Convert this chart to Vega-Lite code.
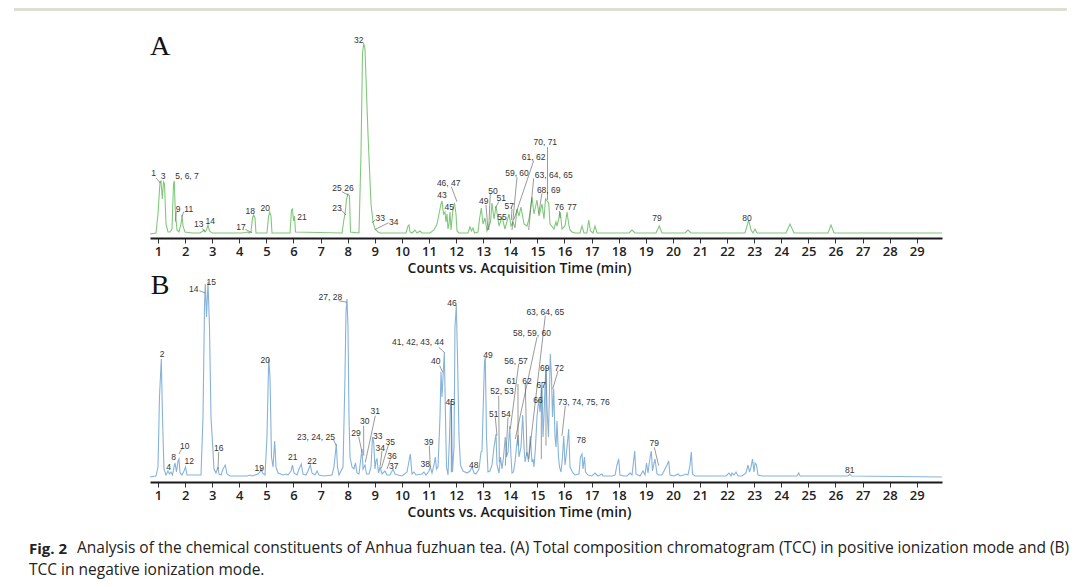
{
"$schema": "https://vega.github.io/schema/vega-lite/v6.json",
"background": "white",
"padding": {"left": 12, "top": 8, "right": 12, "bottom": 4},
"config": {"view": {"stroke": null}, "font": "Open Sans",
 "axisX": {"grid": false, "domainColor": "#1a1a1a", "domainWidth": 2, "tickColor": "#333", "tickWidth": 1, "tickSize": 5, "labelFont": "Open Sans", "labelFontSize": 13, "labelFontWeight": 600, "labelColor": "#222", "labelPadding": 2, "labelFlush": false, "labelOverlap": false, "titleFont": "Open Sans", "titleFontSize": 14, "titleFontWeight": 600, "titleColor": "#1a1a1a", "titlePadding": 3}},
"spacing": -3,
"title": {
 "text": "Fig. 2",
 "subtitle": "TCC in negative ionization mode.",
 "orient": "bottom", "anchor": "start", "frame": "group", "dx": -121, "dy": -15, "offset": 0,
 "font": "Open Sans", "fontSize": 15, "fontWeight": "bold", "color": "#222",
 "subtitleFont": "Open Sans", "subtitleFontSize": 15.5, "subtitleColor": "#222", "subtitlePadding": 6
},
"datasets": {
 "lineA": [
 {"t":0.705,"v":0},{"t":0.926,"v":1},{"t":1.0,"v":20},{"t":1.074,"v":52},{"t":1.111,"v":53},{"t":1.159,"v":35},{"t":1.203,"v":52},{"t":1.24,"v":50},{"t":1.295,"v":10},{"t":1.369,"v":2},{"t":1.443,"v":2},{"t":1.517,"v":5},{"t":1.572,"v":50},{"t":1.601,"v":53},{"t":1.635,"v":25},{"t":1.664,"v":15},{"t":1.701,"v":4},{"t":1.775,"v":2},{"t":1.849,"v":10},{"t":1.886,"v":19},{"t":1.923,"v":8},{"t":1.996,"v":2},{"t":2.255,"v":1},{"t":2.55,"v":1},{"t":2.661,"v":3},{"t":2.697,"v":4},{"t":2.734,"v":2},{"t":2.79,"v":4},{"t":2.845,"v":9},{"t":2.9,"v":3},{"t":2.993,"v":1},{"t":4.1,"v":1},{"t":4.321,"v":2},{"t":4.358,"v":1},{"t":4.432,"v":2},{"t":4.487,"v":16},{"t":4.531,"v":19},{"t":4.579,"v":16},{"t":4.616,"v":1},{"t":5.022,"v":1},{"t":5.077,"v":17},{"t":5.122,"v":22},{"t":5.17,"v":18},{"t":5.207,"v":1},{"t":5.871,"v":1},{"t":5.926,"v":24},{"t":5.963,"v":25},{"t":6.0,"v":13},{"t":6.037,"v":18},{"t":6.074,"v":2},{"t":7.79,"v":1},{"t":7.864,"v":15},{"t":7.911,"v":22},{"t":7.956,"v":35},{"t":8.011,"v":40},{"t":8.066,"v":38},{"t":8.103,"v":2},{"t":8.417,"v":1},{"t":8.491,"v":80},{"t":8.546,"v":180},{"t":8.59,"v":191},{"t":8.638,"v":185},{"t":8.749,"v":100},{"t":8.86,"v":30},{"t":8.934,"v":12},{"t":9.007,"v":5},{"t":9.118,"v":2},{"t":9.192,"v":1},{"t":10.151,"v":1},{"t":10.225,"v":8},{"t":10.262,"v":9},{"t":10.299,"v":2},{"t":10.373,"v":1},{"t":10.483,"v":4},{"t":10.557,"v":1},{"t":10.668,"v":3},{"t":10.742,"v":1},{"t":11.037,"v":1},{"t":11.185,"v":4},{"t":11.295,"v":10},{"t":11.369,"v":20},{"t":11.443,"v":30},{"t":11.48,"v":33},{"t":11.535,"v":20},{"t":11.59,"v":22},{"t":11.627,"v":12},{"t":11.664,"v":20},{"t":11.701,"v":5},{"t":11.738,"v":10},{"t":11.775,"v":22},{"t":11.812,"v":4},{"t":11.886,"v":25},{"t":11.941,"v":31},{"t":11.996,"v":20},{"t":12.033,"v":3},{"t":12.107,"v":1},{"t":12.439,"v":1},{"t":12.513,"v":7},{"t":12.568,"v":3},{"t":12.624,"v":6},{"t":12.679,"v":1},{"t":12.808,"v":2},{"t":12.864,"v":15},{"t":12.93,"v":26},{"t":12.993,"v":10},{"t":13.067,"v":16},{"t":13.14,"v":3},{"t":13.214,"v":8},{"t":13.27,"v":12},{"t":13.325,"v":31},{"t":13.399,"v":15},{"t":13.472,"v":28},{"t":13.583,"v":8},{"t":13.694,"v":17},{"t":13.804,"v":5},{"t":13.952,"v":20},{"t":14.026,"v":8},{"t":14.1,"v":12},{"t":14.174,"v":6},{"t":14.247,"v":25},{"t":14.321,"v":18},{"t":14.395,"v":27},{"t":14.506,"v":10},{"t":14.616,"v":8},{"t":14.69,"v":15},{"t":14.801,"v":37},{"t":14.875,"v":20},{"t":14.985,"v":34},{"t":15.059,"v":18},{"t":15.17,"v":30},{"t":15.243,"v":15},{"t":15.299,"v":35},{"t":15.417,"v":31},{"t":15.465,"v":10},{"t":15.613,"v":5},{"t":15.686,"v":12},{"t":15.723,"v":8},{"t":15.845,"v":22},{"t":15.908,"v":5},{"t":16.019,"v":8},{"t":16.093,"v":22},{"t":16.166,"v":8},{"t":16.203,"v":4},{"t":16.277,"v":2},{"t":16.388,"v":1},{"t":16.572,"v":1},{"t":16.646,"v":8},{"t":16.72,"v":1},{"t":16.83,"v":1},{"t":16.893,"v":14},{"t":16.959,"v":3},{"t":17.052,"v":1},{"t":17.126,"v":8},{"t":17.2,"v":1},{"t":18.38,"v":1},{"t":18.491,"v":4},{"t":18.602,"v":1},{"t":19.376,"v":1},{"t":19.498,"v":8},{"t":19.597,"v":1},{"t":20.447,"v":1},{"t":20.557,"v":4},{"t":20.668,"v":1},{"t":22.661,"v":1},{"t":22.797,"v":14},{"t":22.882,"v":4},{"t":22.956,"v":1},{"t":23.03,"v":5},{"t":23.103,"v":1},{"t":24.173,"v":1},{"t":24.321,"v":10},{"t":24.469,"v":1},{"t":25.723,"v":1},{"t":25.834,"v":9},{"t":25.945,"v":1},{"t":29.93,"v":1}
 ],
 "lineB": [
 {"t":0.705,"v":0},{"t":0.926,"v":1},{"t":1.0,"v":10},{"t":1.055,"v":80},{"t":1.122,"v":118},{"t":1.166,"v":60},{"t":1.221,"v":8},{"t":1.295,"v":2},{"t":1.369,"v":6},{"t":1.424,"v":3},{"t":1.48,"v":5},{"t":1.535,"v":2},{"t":1.59,"v":10},{"t":1.627,"v":14},{"t":1.683,"v":5},{"t":1.738,"v":16},{"t":1.775,"v":18},{"t":1.812,"v":4},{"t":1.886,"v":2},{"t":1.959,"v":6},{"t":2.015,"v":10},{"t":2.07,"v":2},{"t":2.144,"v":2},{"t":2.587,"v":2},{"t":2.661,"v":60},{"t":2.716,"v":170},{"t":2.745,"v":193},{"t":2.79,"v":160},{"t":2.845,"v":195},{"t":2.9,"v":150},{"t":2.956,"v":60},{"t":3.011,"v":35},{"t":3.066,"v":8},{"t":3.14,"v":4},{"t":3.214,"v":10},{"t":3.251,"v":3},{"t":3.325,"v":2},{"t":3.399,"v":8},{"t":3.483,"v":12},{"t":3.546,"v":3},{"t":3.657,"v":1},{"t":4.284,"v":1},{"t":4.395,"v":2},{"t":4.469,"v":1},{"t":4.69,"v":3},{"t":4.764,"v":5},{"t":4.801,"v":8},{"t":4.856,"v":4},{"t":4.948,"v":2},{"t":5.022,"v":40},{"t":5.085,"v":118},{"t":5.133,"v":100},{"t":5.188,"v":20},{"t":5.244,"v":10},{"t":5.306,"v":36},{"t":5.354,"v":10},{"t":5.428,"v":4},{"t":5.613,"v":2},{"t":5.723,"v":3},{"t":5.797,"v":2},{"t":5.908,"v":6},{"t":5.963,"v":12},{"t":6.018,"v":4},{"t":6.129,"v":2},{"t":6.203,"v":8},{"t":6.288,"v":13},{"t":6.351,"v":3},{"t":6.461,"v":2},{"t":6.535,"v":6},{"t":6.62,"v":12},{"t":6.683,"v":4},{"t":6.793,"v":2},{"t":6.867,"v":6},{"t":6.941,"v":2},{"t":7.126,"v":1},{"t":7.421,"v":2},{"t":7.494,"v":10},{"t":7.579,"v":33},{"t":7.624,"v":10},{"t":7.679,"v":2},{"t":7.827,"v":10},{"t":7.9,"v":100},{"t":7.937,"v":165},{"t":7.974,"v":178},{"t":8.011,"v":150},{"t":8.048,"v":60},{"t":8.085,"v":20},{"t":8.159,"v":10},{"t":8.232,"v":8},{"t":8.288,"v":14},{"t":8.343,"v":4},{"t":8.417,"v":3},{"t":8.491,"v":20},{"t":8.528,"v":28},{"t":8.565,"v":8},{"t":8.638,"v":12},{"t":8.694,"v":3},{"t":8.786,"v":3},{"t":8.86,"v":10},{"t":8.915,"v":40},{"t":8.959,"v":35},{"t":9.007,"v":8},{"t":9.044,"v":16},{"t":9.081,"v":18},{"t":9.137,"v":4},{"t":9.192,"v":10},{"t":9.266,"v":3},{"t":9.376,"v":6},{"t":9.45,"v":2},{"t":9.561,"v":2},{"t":9.672,"v":8},{"t":9.745,"v":3},{"t":9.856,"v":2},{"t":10.004,"v":1},{"t":10.188,"v":5},{"t":10.31,"v":23},{"t":10.373,"v":3},{"t":10.447,"v":5},{"t":10.52,"v":2},{"t":10.742,"v":3},{"t":10.815,"v":5},{"t":10.889,"v":2},{"t":11.0,"v":6},{"t":11.048,"v":10},{"t":11.111,"v":4},{"t":11.185,"v":12},{"t":11.233,"v":20},{"t":11.277,"v":8},{"t":11.332,"v":10},{"t":11.406,"v":60},{"t":11.443,"v":105},{"t":11.48,"v":80},{"t":11.517,"v":100},{"t":11.565,"v":125},{"t":11.609,"v":60},{"t":11.646,"v":10},{"t":11.701,"v":2},{"t":11.757,"v":40},{"t":11.794,"v":75},{"t":11.823,"v":76},{"t":11.867,"v":5},{"t":11.923,"v":30},{"t":11.959,"v":150},{"t":12.008,"v":172},{"t":12.052,"v":120},{"t":12.107,"v":40},{"t":12.162,"v":12},{"t":12.255,"v":6},{"t":12.402,"v":4},{"t":12.513,"v":6},{"t":12.587,"v":10},{"t":12.661,"v":4},{"t":12.734,"v":3},{"t":12.845,"v":8},{"t":12.919,"v":25},{"t":12.956,"v":26},{"t":13.011,"v":80},{"t":13.048,"v":115},{"t":13.077,"v":120},{"t":13.122,"v":40},{"t":13.177,"v":5},{"t":13.251,"v":6},{"t":13.325,"v":12},{"t":13.399,"v":30},{"t":13.472,"v":43},{"t":13.509,"v":12},{"t":13.583,"v":4},{"t":13.638,"v":20},{"t":13.694,"v":8},{"t":13.749,"v":20},{"t":13.816,"v":40},{"t":13.86,"v":20},{"t":13.916,"v":25},{"t":13.978,"v":51},{"t":14.026,"v":20},{"t":14.063,"v":4},{"t":14.118,"v":5},{"t":14.174,"v":15},{"t":14.229,"v":30},{"t":14.284,"v":42},{"t":14.321,"v":20},{"t":14.395,"v":30},{"t":14.458,"v":62},{"t":14.506,"v":30},{"t":14.543,"v":15},{"t":14.616,"v":25},{"t":14.672,"v":15},{"t":14.738,"v":41},{"t":14.801,"v":15},{"t":14.838,"v":18},{"t":14.875,"v":10},{"t":14.93,"v":30},{"t":14.985,"v":60},{"t":15.048,"v":78},{"t":15.096,"v":65},{"t":15.133,"v":80},{"t":15.17,"v":95},{"t":15.207,"v":40},{"t":15.243,"v":60},{"t":15.28,"v":90},{"t":15.317,"v":111},{"t":15.354,"v":70},{"t":15.409,"v":40},{"t":15.476,"v":123},{"t":15.52,"v":100},{"t":15.557,"v":60},{"t":15.602,"v":88},{"t":15.65,"v":40},{"t":15.686,"v":30},{"t":15.723,"v":56},{"t":15.779,"v":20},{"t":15.816,"v":10},{"t":15.871,"v":5},{"t":15.926,"v":20},{"t":15.971,"v":41},{"t":16.019,"v":12},{"t":16.056,"v":20},{"t":16.111,"v":35},{"t":16.155,"v":48},{"t":16.203,"v":10},{"t":16.24,"v":8},{"t":16.314,"v":4},{"t":16.388,"v":2},{"t":16.535,"v":3},{"t":16.59,"v":20},{"t":16.646,"v":23},{"t":16.683,"v":8},{"t":16.738,"v":20},{"t":16.775,"v":5},{"t":16.867,"v":2},{"t":17.015,"v":1},{"t":17.126,"v":4},{"t":17.237,"v":1},{"t":17.384,"v":3},{"t":17.421,"v":1},{"t":17.605,"v":1},{"t":17.753,"v":1},{"t":17.864,"v":2},{"t":17.938,"v":12},{"t":18.0,"v":18},{"t":18.047,"v":2},{"t":18.196,"v":1},{"t":18.306,"v":1},{"t":18.417,"v":4},{"t":18.491,"v":2},{"t":18.546,"v":15},{"t":18.59,"v":26},{"t":18.638,"v":3},{"t":18.786,"v":1},{"t":18.897,"v":6},{"t":18.971,"v":2},{"t":19.026,"v":14},{"t":19.081,"v":4},{"t":19.118,"v":12},{"t":19.173,"v":22},{"t":19.203,"v":26},{"t":19.247,"v":6},{"t":19.303,"v":14},{"t":19.34,"v":18},{"t":19.413,"v":3},{"t":19.487,"v":2},{"t":19.597,"v":2},{"t":19.782,"v":12},{"t":19.845,"v":16},{"t":19.893,"v":2},{"t":20.04,"v":1},{"t":20.188,"v":3},{"t":20.262,"v":1},{"t":20.41,"v":2},{"t":20.483,"v":3},{"t":20.557,"v":2},{"t":20.631,"v":12},{"t":20.679,"v":25},{"t":20.723,"v":3},{"t":20.816,"v":1},{"t":21.812,"v":1},{"t":21.96,"v":1},{"t":22.071,"v":4},{"t":22.144,"v":1},{"t":22.181,"v":4},{"t":22.255,"v":2},{"t":22.329,"v":5},{"t":22.403,"v":1},{"t":22.55,"v":1},{"t":22.698,"v":4},{"t":22.771,"v":12},{"t":22.827,"v":5},{"t":22.882,"v":10},{"t":22.937,"v":18},{"t":22.993,"v":5},{"t":23.03,"v":14},{"t":23.085,"v":12},{"t":23.14,"v":2},{"t":23.288,"v":1},{"t":24.58,"v":1},{"t":24.642,"v":4},{"t":24.69,"v":1},{"t":26.461,"v":1},{"t":26.536,"v":3},{"t":26.591,"v":1},{"t":29.93,"v":0}
 ],
 "labA": [
 {"t":0.841,"v":60.7,"label":"1"},{"t":1.185,"v":58.3,"label":"3"},{"t":2.07,"v":58.3,"label":"5, 6, 7"},{"t":1.738,"v":25,"label":"9"},{"t":2.133,"v":25,"label":"11"},{"t":2.502,"v":9.7,"label":"13"},{"t":2.93,"v":13.3,"label":"14"},{"t":4.063,"v":6.7,"label":"17"},{"t":4.406,"v":23,"label":"18"},{"t":4.959,"v":25.7,"label":"20"},{"t":6.314,"v":17.3,"label":"21"},{"t":7.605,"v":26.3,"label":"23"},{"t":7.827,"v":46.5,"label":"25 26"},{"t":8.406,"v":194,"label":"32"},{"t":9.203,"v":16.3,"label":"33"},{"t":9.697,"v":11.7,"label":"34"},{"t":11.48,"v":39,"label":"43"},{"t":11.749,"v":26.7,"label":"45"},{"t":11.727,"v":50.7,"label":"46, 47"},{"t":13.019,"v":33,"label":"49"},{"t":13.362,"v":43.3,"label":"50"},{"t":13.668,"v":35.7,"label":"51"},{"t":13.694,"v":16.7,"label":"55"},{"t":13.963,"v":28,"label":"57"},{"t":14.247,"v":60.7,"label":"59, 60"},{"t":14.863,"v":77.3,"label":"61, 62"},{"t":15.602,"v":59,"label":"63, 64, 65"},{"t":15.417,"v":44,"label":"68, 69"},{"t":15.291,"v":92.3,"label":"70, 71"},{"t":15.808,"v":26.7,"label":"76"},{"t":16.277,"v":26.7,"label":"77"},{"t":19.413,"v":16.3,"label":"79"},{"t":22.734,"v":16.3,"label":"80"}
 ],
 "ldA": [
 {"t1":0.926,"v1":56,"t2":1.092,"v2":51},{"t1":1.675,"v1":22.3,"t2":1.638,"v2":12.3},{"t1":1.948,"v1":22.3,"t2":1.886,"v2":17.3},{"t1":2.624,"v1":5.7,"t2":2.745,"v2":2.3},{"t1":4.221,"v1":4.7,"t2":4.469,"v2":1.3},{"t1":7.764,"v1":24,"t2":7.937,"v2":19},{"t1":7.79,"v1":42.3,"t2":8.011,"v2":39},{"t1":9.019,"v1":14,"t2":8.897,"v2":11.3},{"t1":9.513,"v1":11.3,"t2":9.019,"v2":4.7},{"t1":11.823,"v1":47.3,"t2":12.033,"v2":32.3},{"t1":13.103,"v1":29,"t2":13.177,"v2":4},{"t1":13.262,"v1":40,"t2":13.203,"v2":4},{"t1":13.572,"v1":32.3,"t2":13.447,"v2":25.7},{"t1":14.063,"v1":25,"t2":14.037,"v2":14},{"t1":14.247,"v1":56.7,"t2":14.063,"v2":4},{"t1":14.863,"v1":73.3,"t2":14.125,"v2":14},{"t1":14.863,"v1":55.7,"t2":14.679,"v2":4},{"t1":15.373,"v1":87,"t2":15.373,"v2":34},{"t1":15.17,"v1":40.7,"t2":15.048,"v2":20.7},{"t1":15.808,"v1":23,"t2":15.845,"v2":16}
 ],
 "labB": [
 {"t":1.148,"v":123,"label":"2"},{"t":1.395,"v":9.7,"label":"4"},{"t":1.579,"v":19.7,"label":"8"},{"t":1.985,"v":31.3,"label":"10"},{"t":2.155,"v":15.7,"label":"12"},{"t":2.317,"v":188,"label":"14"},{"t":2.967,"v":195.3,"label":"15"},{"t":3.24,"v":29,"label":"16"},{"t":4.738,"v":8.7,"label":"19"},{"t":4.959,"v":117.3,"label":"20"},{"t":5.97,"v":19.7,"label":"21"},{"t":6.683,"v":15.7,"label":"22"},{"t":6.83,"v":40.3,"label":"23, 24, 25"},{"t":7.358,"v":179.7,"label":"27, 28"},{"t":8.306,"v":44,"label":"29"},{"t":8.627,"v":56.3,"label":"30"},{"t":9.019,"v":66.3,"label":"31"},{"t":9.107,"v":41.3,"label":"33"},{"t":9.203,"v":28.7,"label":"34"},{"t":9.572,"v":35.3,"label":"35"},{"t":9.635,"v":20.7,"label":"36"},{"t":9.697,"v":11.3,"label":"37"},{"t":10.863,"v":13,"label":"38"},{"t":10.989,"v":34.7,"label":"39"},{"t":11.247,"v":116,"label":"40"},{"t":10.594,"v":135,"label":"41, 42, 43, 44"},{"t":11.786,"v":75.3,"label":"45"},{"t":11.849,"v":173.7,"label":"46"},{"t":12.65,"v":12,"label":"48"},{"t":13.177,"v":122.3,"label":"49"},{"t":13.694,"v":86.3,"label":"52, 53"},{"t":13.387,"v":63,"label":"51"},{"t":13.841,"v":63,"label":"54"},{"t":14.211,"v":116.3,"label":"56, 57"},{"t":14.801,"v":143.7,"label":"58, 59, 60"},{"t":14.037,"v":96.3,"label":"61"},{"t":14.616,"v":96.3,"label":"62"},{"t":15.291,"v":165.3,"label":"63, 64, 65"},{"t":15.022,"v":77,"label":"66"},{"t":15.144,"v":92,"label":"67"},{"t":15.269,"v":108.7,"label":"69"},{"t":15.808,"v":108.7,"label":"72"},{"t":16.709,"v":75.3,"label":"73, 74, 75, 76"},{"t":16.62,"v":37,"label":"78"},{"t":19.314,"v":34,"label":"79"},{"t":26.524,"v":7.3,"label":"81"}
 ],
 "ldB": [
 {"t1":1.886,"v1":29,"t2":1.775,"v2":23},{"t1":2.524,"v1":186.3,"t2":2.745,"v2":184},{"t1":3.24,"v1":25,"t2":3.214,"v2":8},{"t1":7.483,"v1":37,"t2":7.579,"v2":31.3},{"t1":7.668,"v1":176.3,"t2":7.974,"v2":174.7},{"t1":8.406,"v1":40.5,"t2":8.528,"v2":24.7},{"t1":8.59,"v1":51.3,"t2":8.59,"v2":21.3},{"t1":9.019,"v1":61.3,"t2":8.65,"v2":14.7},{"t1":9.266,"v1":26.3,"t2":9.203,"v2":11.3},{"t1":9.513,"v1":33,"t2":9.24,"v2":8.7},{"t1":9.572,"v1":17.5,"t2":9.45,"v2":8},{"t1":11.011,"v1":31.3,"t2":11.048,"v2":9.7},{"t1":11.358,"v1":129.7,"t2":11.565,"v2":124.7},{"t1":11.395,"v1":111.3,"t2":11.506,"v2":104.7},{"t1":11.823,"v1":73,"t2":11.823,"v2":4.7},{"t1":13.572,"v1":81.3,"t2":13.594,"v2":14.7},{"t1":13.447,"v1":59.7,"t2":13.509,"v2":41.3},{"t1":13.916,"v1":59.7,"t2":13.816,"v2":11.3},{"t1":14.31,"v1":113,"t2":14.0,"v2":48},{"t1":14.985,"v1":139.7,"t2":14.185,"v2":38},{"t1":14.284,"v1":93,"t2":14.284,"v2":31.3},{"t1":14.553,"v1":93,"t2":14.616,"v2":21.3},{"t1":15.291,"v1":161.3,"t2":14.679,"v2":18},{"t1":15.144,"v1":89,"t2":15.144,"v2":18},{"t1":15.317,"v1":106,"t2":15.317,"v2":31.3},{"t1":15.76,"v1":106,"t2":15.565,"v2":88},{"t1":16.03,"v1":71.3,"t2":15.908,"v2":41.3},{"t1":19.314,"v1":29.7,"t2":19.476,"v2":11.3}
 ]
},
"vconcat": [
 {
  "width": 792, "height": 210,
  "layer": [
   {"data": {"values": [{}]}, "mark": {"type": "rule", "color": "#dcdfd2", "strokeWidth": 3},
    "encoding": {"x": {"datum": -4.3137, "type": "quantitative", "scale": {"domain": [0.705, 29.93], "nice": false, "zero": false}, "axis": {"values": [1,2,3,4,5,6,7,8,9,10,11,12,13,14,15,16,17,18,19,20,21,22,23,24,25,26,27,28,29], "title": "Counts vs. Acquisition Time (min)", "titleX": 369}}, "x2": {"datum": 34.54}, "y": {"datum": 224.5, "type": "quantitative", "scale": {"domain": [-4, 206], "nice": false, "zero": false}, "axis": null}}},
   {"data": {"name": "lineA"}, "mark": {"type": "line", "color": "#80c97b", "strokeWidth": 1.1},
    "encoding": {"x": {"field": "t", "type": "quantitative", "scale": {"domain": [0.705, 29.93], "nice": false, "zero": false}, "axis": {"values": [1,2,3,4,5,6,7,8,9,10,11,12,13,14,15,16,17,18,19,20,21,22,23,24,25,26,27,28,29], "title": "Counts vs. Acquisition Time (min)", "titleX": 369}},
     "y": {"field": "v", "type": "quantitative", "scale": {"domain": [-4, 206], "nice": false, "zero": false}, "axis": null}}},
   {"data": {"name": "ldA"}, "mark": {"type": "rule", "color": "#555", "strokeWidth": 0.6},
    "encoding": {"x": {"field": "t1", "type": "quantitative", "scale": {"domain": [0.705, 29.93], "nice": false, "zero": false}, "axis": {"values": [1,2,3,4,5,6,7,8,9,10,11,12,13,14,15,16,17,18,19,20,21,22,23,24,25,26,27,28,29], "title": "Counts vs. Acquisition Time (min)", "titleX": 369}}, "x2": {"field": "t2"}, "y": {"field": "v1", "type": "quantitative", "scale": {"domain": [-4, 206], "nice": false, "zero": false}, "axis": null}, "y2": {"field": "v2"}}},
   {"data": {"name": "labA"}, "mark": {"type": "text", "font": "Liberation Sans", "fontSize": 8.5, "color": "#333", "align": "center", "baseline": "middle"},
    "encoding": {"x": {"field": "t", "type": "quantitative", "scale": {"domain": [0.705, 29.93], "nice": false, "zero": false}, "axis": {"values": [1,2,3,4,5,6,7,8,9,10,11,12,13,14,15,16,17,18,19,20,21,22,23,24,25,26,27,28,29], "title": "Counts vs. Acquisition Time (min)", "titleX": 369}}, "y": {"field": "v", "type": "quantitative", "scale": {"domain": [-4, 206], "nice": false, "zero": false}, "axis": null}, "text": {"field": "label"}}},
   {"data": {"values": [{}]}, "mark": {"type": "text", "text": "A", "font": "Liberation Serif", "fontSize": 28, "color": "#111", "align": "center", "baseline": "alphabetic"},
    "encoding": {"x": {"datum": 1.08, "type": "quantitative", "scale": {"domain": [0.705, 29.93], "nice": false, "zero": false}, "axis": {"values": [1,2,3,4,5,6,7,8,9,10,11,12,13,14,15,16,17,18,19,20,21,22,23,24,25,26,27,28,29], "title": "Counts vs. Acquisition Time (min)", "titleX": 369}}, "y": {"datum": 179, "type": "quantitative", "scale": {"domain": [-4, 206], "nice": false, "zero": false}, "axis": null}}}
  ]
 },
 {
  "width": 792, "height": 200,
  "title": {"text": "Analysis of the chemical constituents of Anhua fuzhuan tea. (A) Total composition chromatogram (TCC) in positive ionization mode and (B)", "orient": "bottom", "anchor": "start", "frame": "group", "dx": -73, "offset": 22, "font": "Open Sans", "fontSize": 15.5, "fontWeight": "normal", "color": "#222"},
  "layer": [
   {"data": {"name": "lineB"}, "mark": {"type": "line", "color": "#86b3da", "strokeWidth": 1.1},
    "encoding": {"x": {"field": "t", "type": "quantitative", "scale": {"domain": [0.705, 29.93], "nice": false, "zero": false}, "axis": {"values": [1,2,3,4,5,6,7,8,9,10,11,12,13,14,15,16,17,18,19,20,21,22,23,24,25,26,27,28,29], "title": "Counts vs. Acquisition Time (min)", "titleX": 369}},
     "y": {"field": "v", "type": "quantitative", "scale": {"domain": [-5, 195], "nice": false, "zero": false}, "axis": null}}},
   {"data": {"name": "ldB"}, "mark": {"type": "rule", "color": "#555", "strokeWidth": 0.6},
    "encoding": {"x": {"field": "t1", "type": "quantitative", "scale": {"domain": [0.705, 29.93], "nice": false, "zero": false}, "axis": {"values": [1,2,3,4,5,6,7,8,9,10,11,12,13,14,15,16,17,18,19,20,21,22,23,24,25,26,27,28,29], "title": "Counts vs. Acquisition Time (min)", "titleX": 369}}, "x2": {"field": "t2"}, "y": {"field": "v1", "type": "quantitative", "scale": {"domain": [-5, 195], "nice": false, "zero": false}, "axis": null}, "y2": {"field": "v2"}}},
   {"data": {"name": "labB"}, "mark": {"type": "text", "font": "Liberation Sans", "fontSize": 8.5, "color": "#333", "align": "center", "baseline": "middle"},
    "encoding": {"x": {"field": "t", "type": "quantitative", "scale": {"domain": [0.705, 29.93], "nice": false, "zero": false}, "axis": {"values": [1,2,3,4,5,6,7,8,9,10,11,12,13,14,15,16,17,18,19,20,21,22,23,24,25,26,27,28,29], "title": "Counts vs. Acquisition Time (min)", "titleX": 369}}, "y": {"field": "v", "type": "quantitative", "scale": {"domain": [-5, 195], "nice": false, "zero": false}, "axis": null}, "text": {"field": "label"}}},
   {"data": {"values": [{}]}, "mark": {"type": "text", "text": "B", "font": "Liberation Serif", "fontSize": 28, "color": "#111", "align": "center", "baseline": "alphabetic"},
    "encoding": {"x": {"datum": 1.08, "type": "quantitative", "scale": {"domain": [0.705, 29.93], "nice": false, "zero": false}, "axis": {"values": [1,2,3,4,5,6,7,8,9,10,11,12,13,14,15,16,17,18,19,20,21,22,23,24,25,26,27,28,29], "title": "Counts vs. Acquisition Time (min)", "titleX": 369}}, "y": {"datum": 183, "type": "quantitative", "scale": {"domain": [-5, 195], "nice": false, "zero": false}, "axis": null}}}
  ]
 }
]
}
